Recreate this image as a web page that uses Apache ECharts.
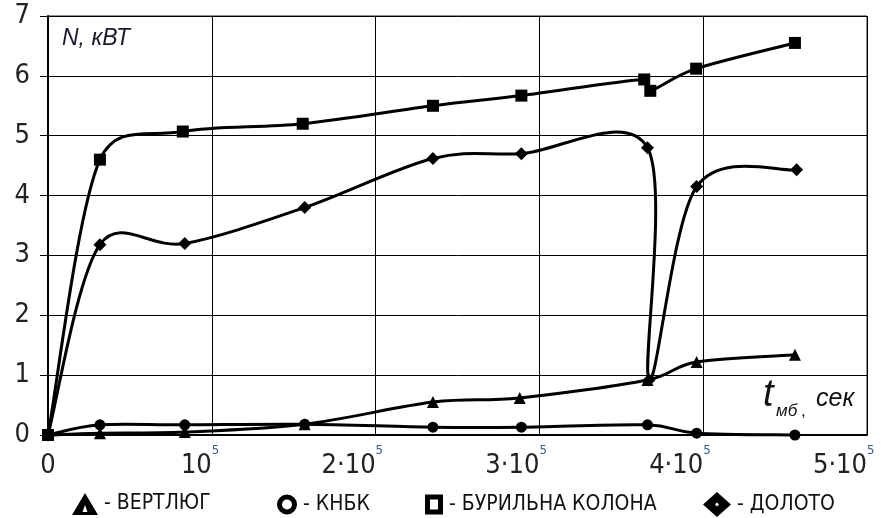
<!DOCTYPE html>
<html><head><meta charset="utf-8">
<script src="https://cdn.jsdelivr.net/npm/echarts@6/dist/echarts.min.js"></script>
<style>html,body{margin:0;padding:0;background:#fff}#c{width:888px;height:518px}</style>
</head><body><div id="c"></div>
<script>
// ---- data ----
const xTicks = [0, 100000, 200000, 300000, 400000, 500000];
const xTickText = ['0', '10', '2·10', '3·10', '4·10', '5·10'];
const xTickSup = ['', '5', '5', '5', '5', '5'];
const yTickText = ['0', '1', '2', '3', '4', '5', '6', '7'];
const seriesNames = ['ВЕРТЛЮГ', 'КНБК', 'БУРИЛЬНА КОЛОНА', 'ДОЛОТО'];

const verX = [0, 31700, 83500, 156700, 235000, 288000, 366000, 396000, 456000];
const verY = [0, 0.03, 0.05, 0.18, 0.55, 0.62, 0.92, 1.22, 1.34];

const knX = [0, 31700, 83500, 156700, 235000, 289000, 366000, 396000, 456000];
const knY = [0, 0.17, 0.17, 0.18, 0.13, 0.13, 0.17, 0.03, 0.0];

const colX = [0, 31700, 82300, 155500, 235000, 289000, 364000, 367700, 395700, 456000];
const colY = [0, 4.6, 5.07, 5.2, 5.5, 5.67, 5.94, 5.75, 6.12, 6.55];

const dolX = [0, 31700, 83500, 156700, 235000, 289000, 366000, 367000, 396000, 457000];
const dolY = [0, 3.18, 3.2, 3.8, 4.62, 4.7, 4.8, 0.92, 4.15, 4.43];

// ---- chart ----
const F = '"DejaVu Sans Condensed","Liberation Sans",Arial,sans-serif';
const FI = '"Liberation Sans",Arial,sans-serif';
const pairs = (xs, ys) => xs.map((x, i) => [x, ys[i]]);
const chart = echarts.init(document.getElementById('c'), null, {renderer: 'canvas'});

const SMOOTH = 0.5, CAP = 1 / 6;
function lineSeries(name, xs, ys) {
  const n = xs.length;
  return {
    name, type: 'custom', data: pairs(xs, ys), encode: {x: 0, y: 1},
    xAxisIndex: 0, yAxisIndex: 0, silent: true, z: 2,
    renderItem: (params, api) => {
      const i = params.dataIndex;
      if (i >= n - 1) return null;
      const P = k => { const j = Math.max(0, Math.min(n - 1, k)); return api.coord([xs[j], ys[j]]); };
      const p0 = P(i - 1), p1 = P(i), p2 = P(i + 1), p3 = P(i + 2);
      const d = (a, b) => Math.hypot(a[0] - b[0], a[1] - b[1]);
      const d01 = d(p0, p1), d12 = d(p1, p2), d23 = d(p2, p3);
      const f1 = Math.min(CAP, SMOOTH * (d01 + d12 > 0 ? d12 / (d01 + d12) : 0));
      const f2 = Math.min(CAP, SMOOTH * (d12 + d23 > 0 ? d12 / (d12 + d23) : 0));
      return {
        type: 'bezierCurve',
        shape: {
          x1: p1[0], y1: p1[1], x2: p2[0], y2: p2[1],
          cpx1: p1[0] + f1 * (p2[0] - p0[0]),
          cpy1: p1[1] + f1 * (p2[1] - p0[1]),
          cpx2: p2[0] - f2 * (p3[0] - p1[0]),
          cpy2: p2[1] - f2 * (p3[1] - p1[1])
        },
        style: {stroke: '#000', lineWidth: 3, fill: null}
      };
    }
  };
}
function markSeries(name, xs, ys, symbol, size) {
  return {
    name, type: 'scatter', data: pairs(xs, ys), symbol, symbolSize: size,
    xAxisIndex: 0, yAxisIndex: 0, z: 3, silent: true,
    itemStyle: {color: '#000', opacity: 1}
  };
}
function mkLegend(name, left, top, w, h, icon) {
  return {
    data: [{name, icon, itemStyle: {color: '#000', borderWidth: 0}}],
    left, top, padding: 0, itemWidth: w, itemHeight: h, itemGap: 0,
    formatter: nm => '- ' + nm,
    textStyle: {fontFamily: F, fontSize: 21, color: '#111', padding: [3, 0, 0, 1]},
    selectedMode: false
  };
}
const xBase = {type: 'value', min: 0, max: 500000, interval: 100000, gridIndex: 0};
const option = {
  backgroundColor: '#fff',
  animation: false,
  grid: {left: 48, right: 21, top: 16, bottom: 83, show: true, borderColor: '#222', borderWidth: 1},
  xAxis: [
    Object.assign({}, xBase, {
      axisLine: {show: true, onZero: false, lineStyle: {color: '#000', width: 2}},
      axisTick: {show: false},
      splitLine: {show: true, lineStyle: {color: '#000', width: 1}},
      axisLabel: {
        align: 'right', margin: 17, fontFamily: F, fontSize: 27, color: '#222',
        formatter: v => { const i = xTicks.indexOf(v); return i > 0 ? xTickText[i] : ''; }
      }
    }),
    Object.assign({}, xBase, {
      position: 'bottom',
      axisLine: {show: false}, axisTick: {show: false}, splitLine: {show: false},
      axisLabel: {
        align: 'left', margin: 9, fontFamily: F, fontSize: 13, color: '#3b5a8a',
        formatter: v => { const i = xTicks.indexOf(v); return i > 0 ? xTickSup[i] : ''; }
      }
    }),
    Object.assign({}, xBase, {
      position: 'bottom',
      axisLine: {show: false}, axisTick: {show: false}, splitLine: {show: false},
      axisLabel: {
        align: 'center', margin: 17, fontFamily: F, fontSize: 27, color: '#222',
        formatter: v => { const i = xTicks.indexOf(v); return i === 0 ? xTickText[0] : ''; }
      }
    })
  ],
  yAxis: {
    type: 'value', min: 0, max: 7, interval: 1,
    axisLine: {show: true, lineStyle: {color: '#000', width: 2}},
    axisTick: {show: true, length: 8, lineStyle: {color: '#000', width: 1}},
    splitLine: {show: true, lineStyle: {color: '#000', width: 1}},
    axisLabel: {
      margin: 18, fontFamily: F, fontSize: 27, color: '#222',
      formatter: v => yTickText[Math.round(v)]
    }
  },
  legend: [
    mkLegend(seriesNames[0], 72, 493, 26, 22, 'path://M0,22L13,0L26,22ZM10.5,19L15.5,19L13,12Z'),
    mkLegend(seriesNames[1], 277, 494, 20, 20, 'path://M10,0A10,10,0,1,1,9.99,0ZM10,5A5,5,0,1,0,10.01,5Z'),
    mkLegend(seriesNames[2], 425, 494, 18, 20, 'path://M0,0H18V20H0ZM5,5V15H13V5Z'),
    mkLegend(seriesNames[3], 703, 492, 28, 25, 'path://M14,0L28,12.5L14,25L0,12.5ZM14,10.5L12,12.5L14,14.5L16,12.5Z')
  ],
  graphic: [
    {type: 'text', left: 62, top: 27, style: {text: 'N, кВТ', font: 'italic 23px ' + FI, fill: '#1a1a2e'}},
    {type: 'text', left: 763, top: 376, style: {text: 't', font: 'italic 38px ' + FI, fill: '#111'}},
    {type: 'text', left: 776, top: 403, style: {text: 'мб', font: 'italic 17px ' + FI, fill: '#111'}},
    {type: 'text', left: 801, top: 403, style: {text: ',', font: '17px ' + FI, fill: '#111'}},
    {type: 'text', left: 816, top: 387, style: {text: 'сек', font: 'italic 25px ' + FI, fill: '#111'}}
  ],
  series: [
    lineSeries(seriesNames[0], verX, verY),
    lineSeries(seriesNames[1], knX, knY),
    lineSeries(seriesNames[2], colX, colY),
    lineSeries(seriesNames[3], dolX, dolY),
    markSeries(seriesNames[0], verX, verY, 'triangle', 12),
    markSeries(seriesNames[1], knX, knY, 'circle', 11),
    markSeries(seriesNames[2], colX, colY, 'rect', 12),
    markSeries(seriesNames[3], dolX, dolY, 'diamond', 13)
  ]
};
chart.setOption(option);
</script></body></html>
